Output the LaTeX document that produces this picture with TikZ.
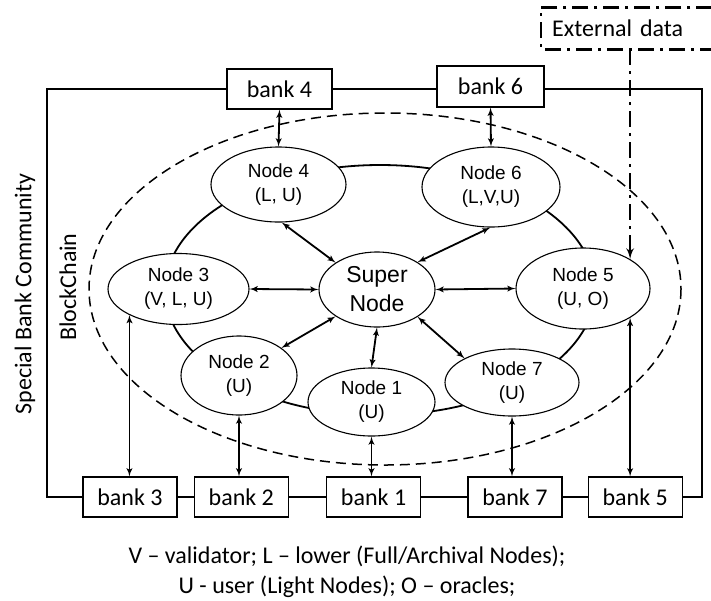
\documentclass[tikz,border=0pt]{standalone}
\usepackage{fontspec}
\setmainfont{Carlito}
\newfontfamily\nodefont{Liberation Sans}
\usepackage{tikz}
\usetikzlibrary{shapes,arrows,positioning,calc,shapes.geometric}

\begin{document}
\begin{tikzpicture}[x=1pt, y=-1pt, >=latex']
    \tikzstyle{bank} = [draw, rectangle, fill=white, line width=1.3pt, minimum width=94pt, minimum height=40pt, inner sep=0pt, font=\fontsize{24}{28}\selectfont]
    \tikzstyle{peer} = [draw, ellipse, fill=white, line width=1.1pt, inner sep=0pt, align=center, font=\nodefont\fontsize{19}{24}\selectfont]
    \tikzstyle{link} = [draw, <->, line width=1.8pt]
    \tikzstyle{textlbl} = [font=\fontsize{24}{30}\selectfont]
    \tikzstyle{dashdot} = [line width=2.7pt, dash pattern=on 16pt off 6pt on 3pt off 6pt]

    \useasboundingbox (0,0) rectangle (711,600);

    % community frame, blockchain boundary and ring
    \draw [line width=1.6pt] (47,89) rectangle (702,497);
    \draw [line width=1.5pt, dash pattern=on 10pt off 6pt] (385,289) ellipse [x radius=296, y radius=176];
    \draw [line width=1.8pt] (380,290) ellipse [x radius=215, y radius=125];

    \node [textlbl, rotate=90] (sbc) at (25,294) {Special Bank Community};
    \node [textlbl, rotate=90] (chain) at (68,287) {BlockChain};

    % blockchain nodes
    \node [peer, minimum width=116pt, minimum height=75pt, font=\nodefont\fontsize{23}{29}\selectfont] (super) at (377,289.5) {Super\\Node};
    \node [peer, minimum width=135pt, minimum height=75pt] (n4) at (278.5,184.5) {Node 4\\(L, U)};
    \node [peer, minimum width=138pt, minimum height=80pt] (n6) at (491,187) {Node 6\\(L,V,U)};
    \node [peer, minimum width=141pt, minimum height=71pt] (n3) at (178.5,289) {Node 3\\(V, L, U)};
    \node [peer, minimum width=134pt, minimum height=81pt] (n5) at (583,288.5) {Node 5\\(U, O)};
    \node [peer, minimum width=116pt, minimum height=79pt] (n2) at (239,375.5) {Node 2\\(U)};
    \node [peer, minimum width=134pt, minimum height=67pt] (n7) at (512,382.5) {Node 7\\(U)};
    \node [peer, minimum width=127pt, minimum height=68pt] (n1) at (371.5,402) {Node 1\\(U)};

    % banks
    \node [bank, minimum width=105pt] (b4) at (279.5,89) {bank 4};
    \node [bank, minimum width=107pt, minimum height=41pt] (b6) at (490.5,86.5) {bank 6};
    \node [bank] (b3) at (130,497) {bank 3};
    \node [bank, right=16pt of b3] (b2) {bank 2};
    \node [bank, right=37pt of b2] (b1) {bank 1};
    \node [bank, right=46pt of b1] (b7) {bank 7};
    \node [bank, right=25pt of b7] (b5) {bank 5};

    % links to the super node
    \draw [link] (super.147) -- (n4.-85);
    \draw [link] (super.34) -- (n6.-91);
    \draw [link] (super.west) -- (n3.east);
    \draw [link] (super.east) -- (n5.west);
    \draw [link] (super.213) -- (n2.33);
    \draw [link] (super.-34) -- (n7.153);
    \draw [link] (super.south) -- (n1.north);

    % links to the banks
    \draw [link] (b4.south) -- (n4.north);
    \draw [link] (b6.south) -- (n6.north);
    \draw [link] (n3.208) -- (n3.208 |- b3.north);
    \draw [link] (n2.south) -- (n2.south |- b2.north);
    \draw [link] (n1.south) -- (n1.south |- b1.north);
    \draw [link] (n7.south) -- (n7.south |- b7.north);
    \draw [link] (n5.-32) -- (n5.-32 |- b5.north);

    % oracle feed (box runs off the right edge)
    \node [textlbl, anchor=west, text width=180pt, inner xsep=11pt, minimum height=41pt] (ext) at (541,28.5) {External data};
    \draw [dashdot] (ext.north east) -- (ext.north west) -- (ext.south west) -- (ext.south east);
    \draw [dashdot, ->] (ext.south -| n5.32) -- (n5.32);

    \node [textlbl, align=center] (legend) at (347,572) {V -- validator; L -- lower (Full/Archival Nodes);\\U - user (Light Nodes); O -- oracles;};
\end{tikzpicture}
\end{document}
